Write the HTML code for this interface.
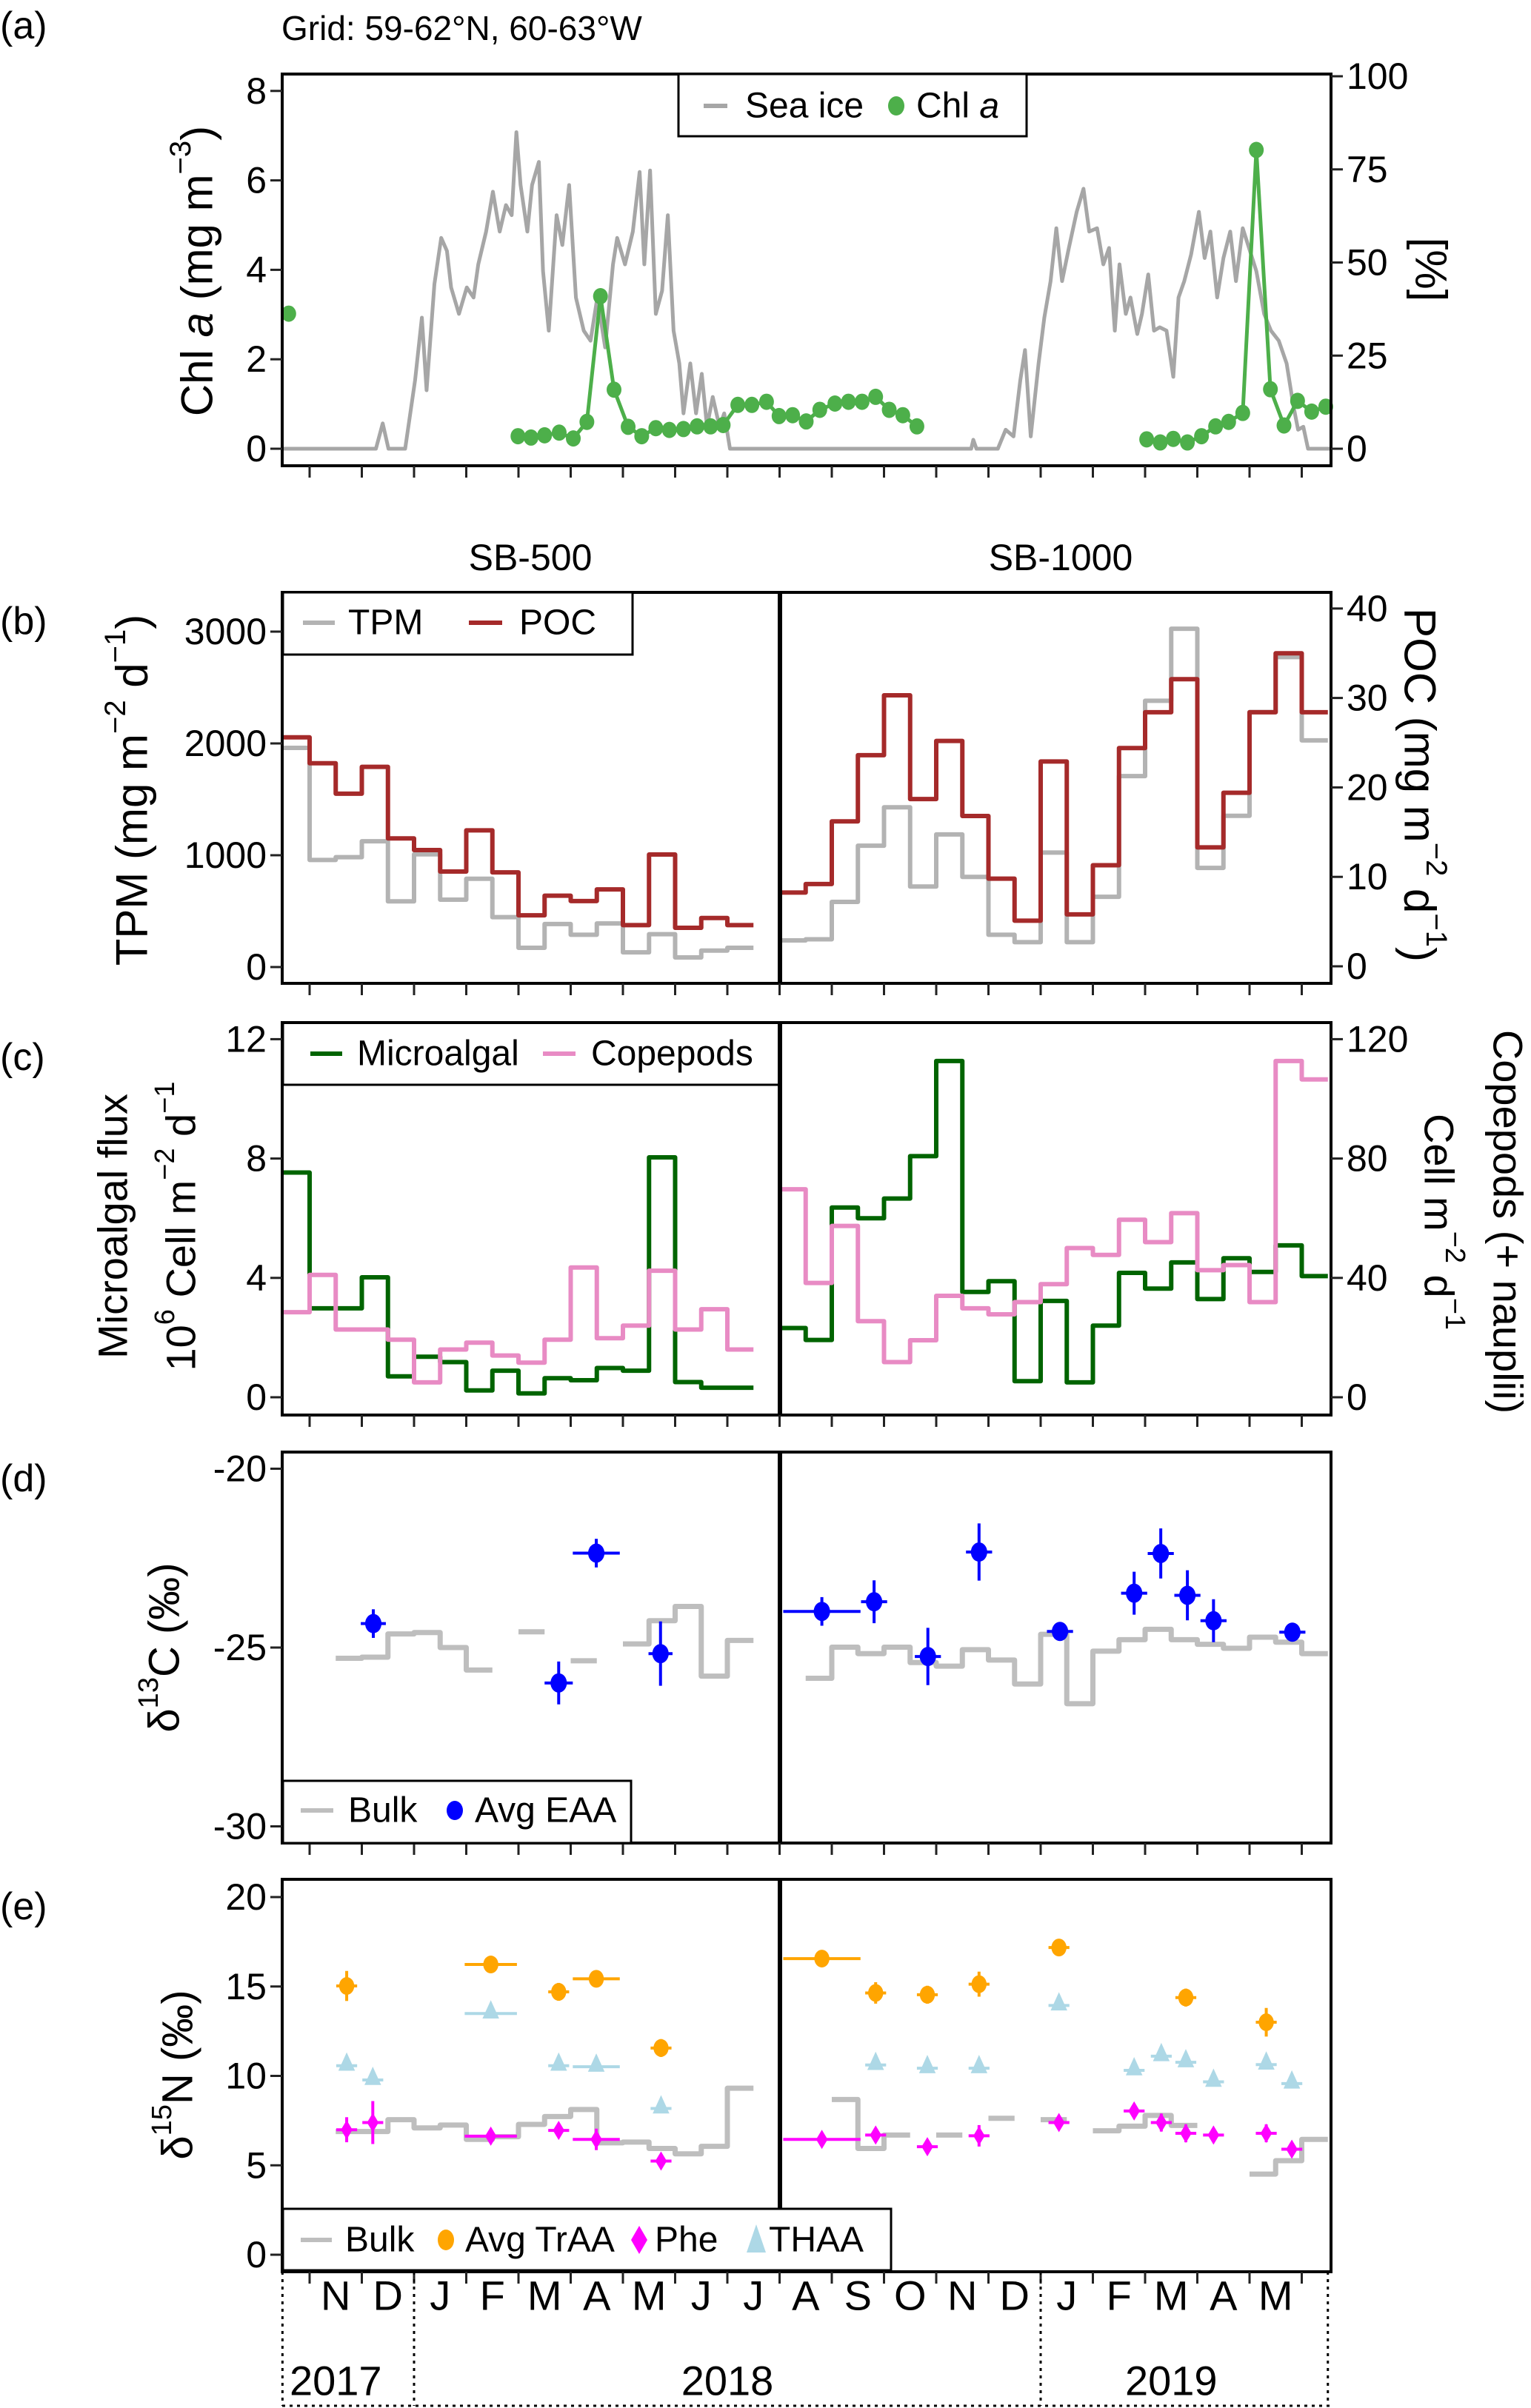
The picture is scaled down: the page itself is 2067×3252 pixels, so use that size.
<!DOCTYPE html>
<html><head><meta charset="utf-8"><style>
html,body{margin:0;padding:0;background:#fff;}
svg{display:block;font-family:"Liberation Sans",Arial,sans-serif;}
</style></head><body>
<svg id="fig" xmlns="http://www.w3.org/2000/svg" width="2067" height="3252" viewBox="0 0 2067 3252">
<rect x="0" y="0" width="2067" height="3252" fill="#fff"/>
<g font-size="52" fill="#000">
<text x="0" y="52">(a)</text>
<text x="380" y="54" font-size="46">Grid: 59-62°N, 60-63°W</text>
<text x="0" y="856">(b)</text>
<text x="0" y="1445">(c)</text>
<text x="0" y="2014">(d)</text>
<text x="0" y="2592">(e)</text>
<text x="716" y="770" font-size="50" text-anchor="middle">SB-500</text>
<text x="1432" y="770" font-size="50" text-anchor="middle">SB-1000</text>
</g>
<g font-size="60" fill="#000" dominant-baseline="central" text-anchor="middle">
<text transform="translate(266,366) rotate(-90)">Chl <tspan font-style="italic">a</tspan> (mg m<tspan baseline-shift="super" font-size="40">−3</tspan>)</text>
<text transform="translate(1932,364) rotate(90)">[%]</text>
<text transform="translate(178,1067) rotate(-90)">TPM (mg m<tspan baseline-shift="super" font-size="40">−2</tspan> d<tspan baseline-shift="super" font-size="40">−1</tspan>)</text>
<text transform="translate(1917,1060) rotate(90)">POC (mg m<tspan baseline-shift="super" font-size="40">−2</tspan> d<tspan baseline-shift="super" font-size="40">−1</tspan>)</text>
<text transform="translate(152,1656) rotate(-90)" font-size="56">Microalgal flux</text>
<text transform="translate(244,1656) rotate(-90)" font-size="56">10<tspan baseline-shift="super" font-size="38">6</tspan> Cell m<tspan baseline-shift="super" font-size="38">−2</tspan> d<tspan baseline-shift="super" font-size="38">−1</tspan></text>
<text transform="translate(2036,1650) rotate(90)" font-size="56">Copepods (+ nauplii)</text>
<text transform="translate(1943,1650) rotate(90)" font-size="56">Cell m<tspan baseline-shift="super" font-size="38">−2</tspan> d<tspan baseline-shift="super" font-size="38">−1</tspan></text>
<text transform="translate(222,2225) rotate(-90)" font-size="58">δ<tspan baseline-shift="super" font-size="38">13</tspan>C (‰)</text>
<text transform="translate(240,2802) rotate(-90)" font-size="58">δ<tspan baseline-shift="super" font-size="38">15</tspan>N (‰)</text>
</g>
<g id="plots"></g>
</svg>
<script>
const iceMonths=[-0.51,1.27,1.40,1.51,1.83,2.02,2.15,2.24,2.39,2.52,2.63,2.71,2.86,3.01,3.14,3.23,3.38,3.51,3.64,3.76,3.87,3.96,4.04,4.17,4.26,4.39,4.47,4.58,4.73,4.84,4.97,5.10,5.25,5.38,5.51,5.66,5.81,5.89,6.04,6.19,6.32,6.41,6.52,6.63,6.75,6.86,6.97,7.08,7.16,7.29,7.40,7.51,7.61,7.72,7.85,7.94,8.05,12.67,12.71,12.77,13.18,13.33,13.48,13.61,13.70,13.81,13.96,14.07,14.19,14.30,14.41,14.54,14.69,14.82,14.93,15.08,15.20,15.31,15.42,15.51,15.63,15.72,15.85,15.94,16.06,16.17,16.28,16.41,16.54,16.64,16.75,16.88,17.03,17.14,17.25,17.38,17.50,17.63,17.74,17.87,17.99,18.13,18.28,18.41,18.56,18.71,18.84,18.93,19.03,19.12,19.55];
const iceValues=[0,0,6.8,0,0,18.4,35.2,15.7,44.2,56.6,53.1,43.3,36.2,43.3,40.6,49.5,58.3,69.0,58.3,65.4,62.7,85.0,70.8,58.3,70.8,77.0,47.7,31.7,62.7,54.7,70.8,40.6,31.7,29.0,40.6,27.2,49.5,56.6,49.5,58.3,74.3,49.5,74.7,36.2,42.4,62.7,31.7,22.9,9.5,22.9,9.5,20.1,5.9,13.9,5.9,9.5,0,0,2.4,0,0,5.1,3.3,18.4,26.5,3.3,22.9,35.2,45.0,59.2,45.0,53.9,63.6,69.8,58.3,59.2,49.5,53.9,31.7,49.5,36.2,40.6,30.8,36.2,46.8,31.7,32.6,31.7,19.3,40.6,45.0,52.1,63.6,51.2,58.3,40.6,51.2,58.3,45.0,59.2,53.9,47.7,36.2,31.7,29.0,22.9,11.5,5.1,5.9,0,0];
const chlSingleMonth=[-0.40];
const chlSingleValue=[3.02];
const chl1Months=[3.99,4.24,4.50,4.78,5.05,5.31,5.57,5.83,6.10,6.36,6.63,6.89,7.16,7.42,7.68,7.92,8.20,8.47,8.75,8.99,9.25,9.51,9.77,10.06,10.32,10.58,10.84,11.10,11.36,11.63];
const chl1Values=[0.28,0.25,0.30,0.36,0.23,0.60,3.41,1.32,0.49,0.28,0.46,0.42,0.44,0.50,0.50,0.53,0.98,0.98,1.05,0.73,0.75,0.61,0.87,1.01,1.05,1.05,1.16,0.87,0.75,0.50];
const chl2Months=[16.03,16.29,16.54,16.81,17.08,17.35,17.60,17.87,18.13,18.40,18.66,18.92,19.19,19.46];
const chl2Values=[0.21,0.14,0.22,0.14,0.28,0.50,0.60,0.80,6.68,1.33,0.52,1.07,0.83,0.94];
const chlTicks=[0,2,4,6,8];
const iceTicks=[0,25,50,75,100];
const sb500Start=-0.5, sb1000Start=9;
const tpm500=[1960,958,983,1125,588,1008,603,790,446,172,385,289,390,132,294,86,147,172];
const poc500=[25.6,22.7,19.3,22.3,14.3,13.0,10.6,15.2,10.5,5.7,7.9,7.3,8.6,4.6,12.5,4.3,5.4,4.6];
const tpm1000=[238,248,583,1085,1429,720,1186,806,289,223,1024,223,628,1708,2382,3026,887,1353,2281,2772,2027];
const poc1000=[8.25,9.2,16.2,23.6,30.3,18.7,25.2,16.8,9.8,5.1,22.9,5.8,11.3,24.4,28.4,32.1,13.3,19.4,28.4,35.0,28.4];
const tpmTicks=[0,1000,2000,3000];
const pocTicks=[0,10,20,30,40];
const micro500=[7.53,2.98,2.98,4.02,0.7,1.36,1.18,0.23,0.89,0.13,0.64,0.57,0.98,0.89,8.04,0.51,0.32,0.32];
const cope500=[28.5,41,22.7,22.7,19.3,5,16,18.3,14,11.6,19.3,43.5,19.8,24,42.4,22.7,29.5,16];
const micro1000=[2.32,1.92,6.36,6.0,6.66,8.08,11.27,3.53,3.89,0.54,3.23,0.5,2.4,4.17,3.64,4.52,3.29,4.66,4.2,5.09,4.06];
const cope1000=[69.7,38.3,57.4,25.5,11.8,19.1,34,29.8,27.8,31.9,37.9,50,47.7,59.5,52,61.7,42.6,44.3,31.9,112.7,106.5];
const microTicks=[0,4,8,12];
const copeTicks=[0,40,80,120];
const bulkC500=[null,null,-25.3,-25.27,-24.62,-24.58,-25.0,-25.63,null,-24.56,null,-25.37,null,-24.9,-24.25,-23.85,-25.8,-24.8];
const bulkC1000=[null,-25.86,-24.99,-25.17,-24.99,-25.42,-25.52,-25.06,-25.35,-26.02,-24.63,-26.57,-25.10,-24.78,-24.49,-24.78,-24.91,-25.02,-24.71,-24.85,-25.17];
const eaaMonths=[1.22,4.77,5.49,6.72,9.81,10.81,11.84,12.82,14.37,15.79,16.3,16.81,17.31,18.82];
const eaaValues=[-24.33,-25.99,-22.36,-25.17,-23.99,-23.72,-25.25,-22.33,-24.55,-23.48,-22.37,-23.54,-24.25,-24.57];
const eaaXerr=[0.24,0.27,0.45,0.23,0.74,0.25,0.25,0.25,0.25,0.25,0.25,0.25,0.25,0.25];
const eaaYerr=[0.4,0.6,0.4,0.9,0.4,0.6,0.8,0.8,0.15,0.6,0.7,0.7,0.6,0.15];
const d13cTicks=[-30,-25,-20];
const bulkN500=[null,null,6.89,6.89,7.55,7.09,7.25,6.45,6.6,7.29,7.73,8.12,6.26,6.3,5.94,5.64,6.06,9.31];
const bulkN1000=[null,null,8.68,5.94,6.69,null,6.69,null,7.63,null,7.55,null,6.93,7.19,7.79,7.23,null,null,4.51,5.26,6.45];
const traaMonths=[0.71,3.47,4.77,5.49,6.73,9.81,10.84,11.83,12.82,14.35,16.78,18.32];
const traaValues=[15.03,16.23,14.70,15.43,11.56,16.56,14.64,14.54,15.13,17.18,14.38,13.0];
const traaXerr=[0.2,0.5,0.2,0.45,0.2,0.74,0.2,0.2,0.2,0.2,0.2,0.2];
const traaYerr=[0.84,0.3,0.5,0.35,0.5,0.2,0.6,0.5,0.7,0.4,0.5,0.8];
const thaaMonths=[0.71,1.21,3.47,4.77,5.49,6.73,10.84,11.83,12.82,14.35,15.79,16.31,16.78,17.31,18.32,18.81];
const thaaValues=[10.57,9.77,13.49,10.57,10.51,8.18,10.61,10.43,10.43,13.94,10.31,11.10,10.76,9.67,10.63,9.57];
const thaaXerr=[0.2,0.2,0.5,0.2,0.45,0.2,0.2,0.2,0.2,0.2,0.2,0.2,0.2,0.2,0.2,0.2];
const pheMonths=[0.71,1.21,3.47,4.77,5.49,6.73,9.81,10.84,11.83,12.82,14.35,15.79,16.31,16.78,17.31,18.32,18.81];
const pheValues=[6.99,7.39,6.63,6.95,6.45,5.24,6.45,6.69,6.04,6.65,7.39,8.04,7.39,6.79,6.69,6.79,5.90];
const pheXerr=[0.2,0.2,0.5,0.2,0.45,0.2,0.74,0.2,0.2,0.2,0.2,0.2,0.2,0.2,0.2,0.2,0.2];
const pheYerr=[0.7,1.2,0.2,0.3,0.6,0.3,0.2,0.3,0.3,0.6,0.3,0.3,0.5,0.5,0.3,0.5,0.3];
const d15nTicks=[0,5,10,15,20];
const monthLabels=["N","D","J","F","M","A","M","J","J","A","S","O","N","D","J","F","M","A","M"];
const yearLabels=["2017","2018","2019"];
const yearMid=[0.5,8,16.5];

const NS="http://www.w3.org/2000/svg";
const plots=document.getElementById('plots');
const L=381, R=1797, SPLIT=1053;
function X(m){return 418+70.5*m;}
const panels={a:{top:100,bot:629},b:{top:800,bot:1328},c:{top:1381,bot:1911},d:{top:1961,bot:2489},e:{top:2538,bot:3068}};
const Ychl=v=>606-60.4*v, Yice=v=>606-5.03*v;
const Ytpm=v=>1306-0.151*v, Ypoc=v=>1305-12.08*v;
const Ymic=v=>1887-40.3*v, Ycop=v=>1887-4.03*v;
const Yc=v=>2225-48.3*(v+25);
const Yn=v=>3045-24.15*v;

function mk(tag,attrs,parent){const e=document.createElementNS(NS,tag);for(const k in attrs)e.setAttribute(k,attrs[k]);(parent||plots).appendChild(e);return e;}
function stepD(start,vals,Y){let d="",prev=null;for(let i=0;i<vals.length;i++){const v=vals[i];if(v===null){prev=null;continue;}const x0=X(start+i*0.5),x1=X(start+(i+1)*0.5);if(prev===null)d+="M"+x0+","+Y(v);else d+="L"+x0+","+Y(v);d+="L"+x1+","+Y(v);prev=v;}return d;}
function drawStep(start,vals,Y,color,w,name){const p=mk('path',{d:stepD(start,vals,Y),fill:'none',stroke:color,'stroke-width':w,'stroke-linejoin':'round'});


return p;}
function frame(p,split,name){const r=mk('rect',{x:L,y:panels[p].top,width:R-L,height:panels[p].bot-panels[p].top,fill:'none',stroke:'#000','stroke-width':4});


if(split){const s=mk('line',{x1:SPLIT,x2:SPLIT,y1:panels[p].top,y2:panels[p].bot,stroke:'#000','stroke-width':6});

}}
function bottomTicks(p){for(let k=0;k<=19;k++){const t=mk('line',{x1:X(k),x2:X(k),y1:panels[p].bot,y2:panels[p].bot+16,stroke:'#222','stroke-width':3});

}}
function leftAxis(ticks,Y){for(const v of ticks){const y=Y(v);const t=mk('line',{x1:L-16,x2:L,y1:y,y2:y,stroke:'#222','stroke-width':3});


const tx=mk('text',{x:360,y:y,'font-size':50,'text-anchor':'end','dominant-baseline':'central'});
tx.textContent=String(v);

}}
function rightAxis(ticks,Y){for(const v of ticks){const y=Y(v);const t=mk('line',{x1:R,x2:R+16,y1:y,y2:y,stroke:'#222','stroke-width':3});


const tx=mk('text',{x:1818,y:y,'font-size':50,'text-anchor':'start','dominant-baseline':'central'});
tx.textContent=String(v);

}}
function errPoint(m,v,xe,ye,Y,color,shape,r,name){const g=mk('g',{});


const x=X(m),y=Y(v);
if(xe>0)mk('line',{x1:X(m-xe),x2:X(m+xe),y1:y,y2:y,stroke:color,'stroke-width':4},g);
if(ye>0)mk('line',{x1:x,x2:x,y1:Y(v-ye),y2:Y(v+ye),stroke:color,'stroke-width':4},g);
if(shape==='circle')mk('ellipse',{cx:x,cy:y,rx:r*0.85,ry:r,fill:color},g);
else if(shape==='diamond')mk('polygon',{points:`${x},${y-r} ${x+r*0.6},${y} ${x},${y+r} ${x-r*0.6},${y}`,fill:color},g);
else mk('polygon',{points:`${x},${y-r*1.2} ${x+r*0.75},${y+r*0.45} ${x-r*0.75},${y+r*0.45}`,fill:color},g);}
function legendBox(x1,y1,x2,y2,name){const r=mk('rect',{x:x1,y:y1,width:x2-x1,height:y2-y1,fill:'#fff',stroke:'#000','stroke-width':3});

}
function legText(x,y,s,name){const t=mk('text',{x:x,y:y,'font-size':48,'dominant-baseline':'central'});t.textContent=s;

return t;}
function legLine(x1,x2,y,color,name){const l=mk('line',{x1:x1,x2:x2,y1:y,y2:y,stroke:color,'stroke-width':6});

}

(function(){
 let d="";for(let i=0;i<iceMonths.length;i++){d+=(i?"L":"M")+X(iceMonths[i])+","+Yice(iceValues[i]);}
 const ice=mk('path',{d:d,fill:'none',stroke:'#a6a6a6','stroke-width':5,'stroke-linejoin':'round'});
 
 
 function chlSeries(ms,vs,name){let dd="";for(let i=0;i<ms.length;i++)dd+=(i?"L":"M")+X(ms[i])+","+Ychl(vs[i]);
  const p=mk('path',{d:dd,fill:'none',stroke:'#4daf4a','stroke-width':5});
  
  
  for(let i=0;i<ms.length;i++){const c=mk('ellipse',{cx:X(ms[i]),cy:Ychl(vs[i]),rx:10,ry:11,fill:'#4daf4a'});
  
  }}
 chlSeries(chlSingleMonth,chlSingleValue,'chl-2017');
 chlSeries(chl1Months,chl1Values,'chl-2018');
 chlSeries(chl2Months,chl2Values,'chl-2019');
 frame('a',false,'panel-a-frame');bottomTicks('a');leftAxis(chlTicks,Ychl);rightAxis(iceTicks,Yice);
 legendBox(916,100,1386,184,'legend-a');
 legLine(950,982,143,'#a6a6a6','legend-sea-ice-swatch');legText(1006,143,'Sea ice','legend-sea-ice');
 const c=mk('ellipse',{cx:1210,cy:143,rx:11,ry:13,fill:'#4daf4a'});
 
 
 const t=legText(1237,143,'Chl ','legend-chl');const ts=document.createElementNS(NS,'tspan');ts.setAttribute('font-style','italic');ts.textContent='a';t.appendChild(ts);
})();

drawStep(sb500Start,tpm500,Ytpm,'#b3b3b3',6,'tpm-sb500');
drawStep(sb500Start,poc500,Ypoc,'#a52a2a',6,'poc-sb500');
drawStep(sb1000Start,tpm1000,Ytpm,'#b3b3b3',6,'tpm-sb1000');
drawStep(sb1000Start,poc1000,Ypoc,'#a52a2a',6,'poc-sb1000');
frame('b',true,'panel-b-frame');bottomTicks('b');leftAxis(tpmTicks,Ytpm);rightAxis(pocTicks,Ypoc);
legendBox(382,800,854,884,'legend-b');
legLine(409,452,841,'#b3b3b3','legend-tpm-swatch');legText(470,841,'TPM','legend-tpm');
legLine(633,678,841,'#a52a2a','legend-poc-swatch');legText(701,841,'POC','legend-poc');

drawStep(sb500Start,micro500,Ymic,'#006400',6,'microalgal-sb500');
drawStep(sb500Start,cope500,Ycop,'#e88bc4',6,'copepods-sb500');
drawStep(sb1000Start,micro1000,Ymic,'#006400',6,'microalgal-sb1000');
drawStep(sb1000Start,cope1000,Ycop,'#e88bc4',6,'copepods-sb1000');
legendBox(382,1381,1053,1465,'legend-c');
frame('c',true,'panel-c-frame');bottomTicks('c');leftAxis(microTicks,Ymic);rightAxis(copeTicks,Ycop);
legLine(419,462,1423,'#006400','legend-microalgal-swatch');legText(482,1423,'Microalgal','legend-microalgal');
legLine(733,777,1423,'#e88bc4','legend-copepods-swatch');legText(798,1423,'Copepods','legend-copepods');

drawStep(sb500Start,bulkC500,Yc,'#bebebe',7,'bulk-d13c-sb500');
drawStep(sb1000Start,bulkC1000,Yc,'#bebebe',7,'bulk-d13c-sb1000');
for(let i=0;i<eaaMonths.length;i++)errPoint(eaaMonths[i],eaaValues[i],eaaXerr[i],eaaYerr[i],Yc,'#0000ff','circle',13,'eaa-point');
frame('d',true,'panel-d-frame');bottomTicks('d');leftAxis(d13cTicks,Yc);
legendBox(382,2405,852,2489,'legend-d');
legLine(406,450,2445,'#bebebe','legend-bulk-c-swatch');legText(470,2445,'Bulk','legend-bulk-c');
(function(){const c=mk('ellipse',{cx:614,cy:2445,rx:11,ry:13,fill:'#0000ff'});

})();
legText(641,2445,'Avg EAA','legend-eaa');

drawStep(sb500Start,bulkN500,Yn,'#bebebe',7,'bulk-d15n-sb500');
drawStep(sb1000Start,bulkN1000,Yn,'#bebebe',7,'bulk-d15n-sb1000');
for(let i=0;i<thaaMonths.length;i++)errPoint(thaaMonths[i],thaaValues[i],thaaXerr[i],0,Yn,'#add8e6','tri',15,'thaa-point');
for(let i=0;i<traaMonths.length;i++)errPoint(traaMonths[i],traaValues[i],traaXerr[i],traaYerr[i],Yn,'#ffa500','circle',12,'traa-point');
for(let i=0;i<pheMonths.length;i++)errPoint(pheMonths[i],pheValues[i],pheXerr[i],pheYerr[i],Yn,'#ff00ff','diamond',13,'phe-point');
frame('e',false,'panel-e-frame');
(function(){const s=mk('line',{x1:SPLIT,x2:SPLIT,y1:panels.e.top,y2:2983,stroke:'#000','stroke-width':6});

})();
bottomTicks('e');leftAxis(d15nTicks,Yn);
legendBox(382,2983,1203,3066,'legend-e');
legLine(406,448,3025,'#bebebe','legend-bulk-n-swatch');legText(466,3025,'Bulk','legend-bulk-n');
(function(){const c=mk('ellipse',{cx:602,cy:3025,rx:11,ry:14,fill:'#ffa500'});


const dm=mk('polygon',{points:'863,3006 874,3025 863,3044 852,3025',fill:'#ff00ff'});


const tr=mk('polygon',{points:'1021,3004 1034,3042 1008,3042',fill:'#add8e6'});

})();
legText(628,3025,'Avg TrAA','legend-traa');legText(884,3025,'Phe','legend-phe');legText(1038,3025,'THAA','legend-thaa');

for(let k=0;k<monthLabels.length;k++){const t=mk('text',{x:X(k+0.5),y:3100,'font-size':56,'text-anchor':'middle','dominant-baseline':'central'});
t.textContent=monthLabels[k];

}
[-0.52,2,14,19.5].forEach(function(m){const l=mk('line',{x1:X(m),x2:X(m),y1:3068,y2:3249,stroke:'#000','stroke-width':3,'stroke-dasharray':'4,6'});

});
(function(){const l=mk('line',{x1:L,x2:R,y1:3249,y2:3249,stroke:'#000','stroke-width':3,'stroke-dasharray':'4,6'});

})();
for(let i=0;i<yearLabels.length;i++){const t=mk('text',{x:X(yearMid[i]),y:3215,'font-size':56,'text-anchor':'middle','dominant-baseline':'central'});
t.textContent=yearLabels[i];

}
</script>
</body></html>
